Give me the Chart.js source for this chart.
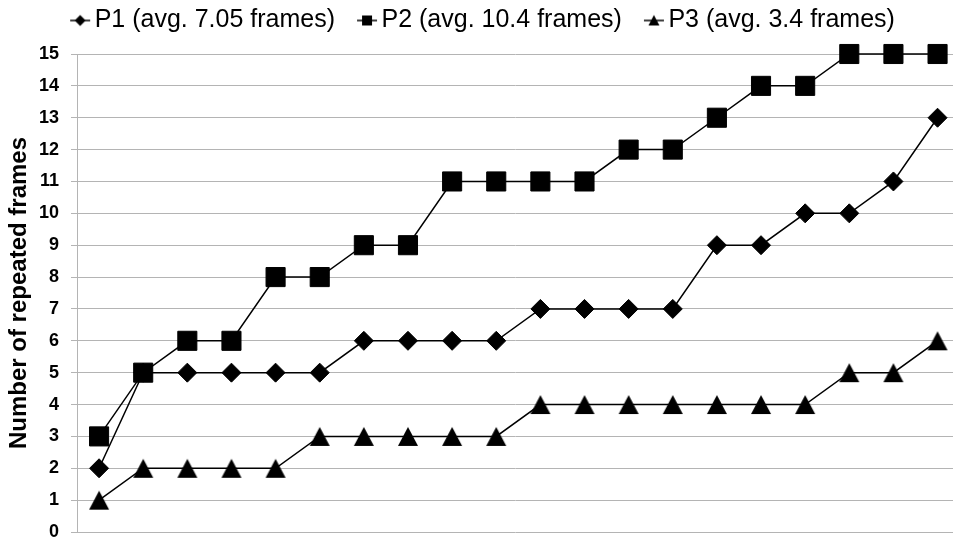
<!DOCTYPE html>
<html>
<head>
<meta charset="utf-8">
<script src="https://cdn.jsdelivr.net/npm/chart.js@4.4.0/dist/chart.umd.min.js"></script>
<style>
  html, body { margin: 0; padding: 0; background: #ffffff; overflow: hidden; }
  canvas { display: block; }
</style>
</head>
<body>
<canvas id="chart" width="953" height="541"></canvas>
<script>
// Run number (x position of each sample)
const runs = [1, 2, 3, 4, 5, 6, 7, 8, 9, 10, 11, 12, 13, 14, 15, 16, 17, 18, 19, 20];

// Repeated frames per run, sorted ascending for each participant
const p1Frames = [2, 5, 5, 5, 5, 5, 6, 6, 6, 6, 7, 7, 7, 7, 9, 9, 10, 10, 11, 13];
const p2Frames = [3, 5, 6, 6, 8, 8, 9, 9, 11, 11, 11, 11, 12, 12, 13, 14, 14, 15, 15, 15];
const p3Frames = [1, 2, 2, 2, 2, 3, 3, 3, 3, 3, 4, 4, 4, 4, 4, 4, 4, 5, 5, 6];

const seriesNames = ['P1 (avg. 7.05 frames)', 'P2 (avg. 10.4 frames)', 'P3 (avg. 3.4 frames)'];
const yTicks = [0, 1, 2, 3, 4, 5, 6, 7, 8, 9, 10, 11, 12, 13, 14, 15];

const FONT = "'Liberation Sans', Arial, sans-serif";

// Centered upward triangle marker
function triangleMarker(w, h) {
  const c = document.createElement('canvas');
  c.width = w + 2; c.height = h + 2;
  const g = c.getContext('2d');
  g.fillStyle = '#000';
  g.beginPath();
  g.moveTo(c.width / 2, 1);
  g.lineTo(c.width - 1, h + 1);
  g.lineTo(1, h + 1);
  g.closePath();
  g.fill();
  return c;
}

// Legend key: short line with the series marker on top
function legendKey(kind) {
  const c = document.createElement('canvas');
  c.width = 22; c.height = 14;
  const g = c.getContext('2d');
  g.strokeStyle = '#000';
  g.fillStyle = '#000';
  g.lineWidth = 1.5;
  g.beginPath();
  g.moveTo(1, 7); g.lineTo(21, 7);
  g.stroke();
  g.beginPath();
  if (kind === 'diamond') {
    g.moveTo(11, 1.5); g.lineTo(16.5, 7); g.lineTo(11, 12.5); g.lineTo(5.5, 7);
  } else if (kind === 'square') {
    g.rect(6, 2, 10, 10);
  } else {
    g.moveTo(11, 1.5); g.lineTo(16.5, 12); g.lineTo(5.5, 12);
  }
  g.closePath();
  g.fill();
  return c;
}

const legendKeys = [legendKey('diamond'), legendKey('square'), legendKey('triangle')];
const pts = arr => runs.map((r, i) => ({ x: r, y: arr[i] }));

const common = {
  borderColor: '#000000',
  backgroundColor: '#000000',
  borderWidth: 1.5,
  pointBackgroundColor: '#000000',
  pointBorderColor: '#000000',
  pointBorderWidth: 1,
  tension: 0,
  clip: false
};

new Chart(document.getElementById('chart'), {
  type: 'line',
  data: {
    datasets: [
      Object.assign({ label: seriesNames[0], data: pts(p1Frames), pointStyle: 'rectRot', pointRadius: 9.5 }, common),
      Object.assign({ label: seriesNames[1], data: pts(p2Frames), pointStyle: 'rect', pointRadius: 13.5 }, common),
      Object.assign({ label: seriesNames[2], data: pts(p3Frames), pointStyle: triangleMarker(20, 19), pointRadius: 10 }, common)
    ]
  },
  options: {
    responsive: false,
    animation: false,
    events: [],
    layout: { autoPadding: false, padding: { left: 20, right: 0, top: -22, bottom: 0 } },
    plugins: {
      tooltip: { enabled: false },
      legend: {
        display: true,
        position: 'top',
        labels: {
          usePointStyle: true,
          pointStyleWidth: 4,
          padding: 30,
          color: '#000000',
          font: { family: FONT, size: 25 },
          generateLabels(chart) {
            const items = Chart.defaults.plugins.legend.labels.generateLabels(chart);
            items.forEach((it, i) => { it.pointStyle = legendKeys[i]; });
            return items;
          }
        }
      }
    },
    scales: {
      // run axis: no labels, only spaces the plot below the legend
      x: {
        type: 'linear',
        position: 'top',
        display: true,
        min: 0.5,
        max: 20.35,
        afterFit(scale) { scale.height = 11; },
        ticks: { display: false },
        grid: { display: false },
        border: { display: false }
      },
      y: {
        type: 'linear',
        position: 'left',
        min: 0,
        max: 15,
        afterBuildTicks(scale) { scale.ticks = yTicks.map(v => ({ value: v })); },
        afterFit(scale) {
          scale.width = 57;
          scale.paddingBottom = 9;
        },
        ticks: {
          padding: 12,
          color: '#000000',
          font: { family: FONT, size: 18, weight: 'bold' }
        },
        grid: {
          color: '#b4b4b4',
          lineWidth: 1,
          tickLength: 6,
          drawTicks: true
        },
        border: { color: '#b4b4b4', width: 1 },
        title: {
          display: true,
          text: 'Number of repeated frames',
          color: '#000000',
          padding: { top: -15, bottom: 0 },
          font: { family: FONT, size: 24, weight: 'bold' }
        }
      }
    }
  }
});
</script>
</body>
</html>
